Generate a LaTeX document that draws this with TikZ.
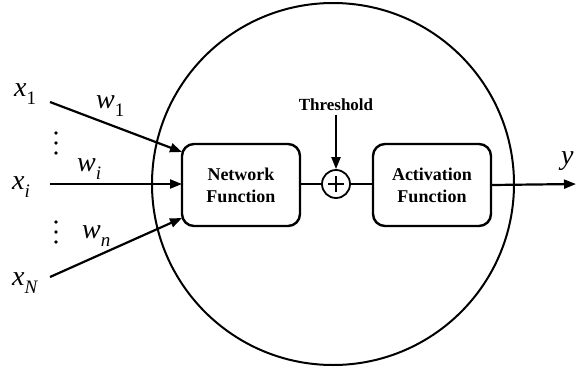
\documentclass[tikz,border=0pt]{standalone}
\usepackage{fontspec}
\setmainfont{Liberation Serif}
\usetikzlibrary{arrows.meta}
\newcommand\vsub[2]{\textit{#1}\raisebox{-8pt}{\fontsize{19}{19}\selectfont #2}}
\begin{document}
\begin{tikzpicture}[x=1pt,y=-1pt,
  lbl/.style={font=\fontsize{28}{30}\selectfont, inner sep=0pt, anchor=base west},
  fbox/.style={draw, line width=2.4pt, rounded corners=12pt, minimum width=118pt, minimum height=82pt, font=\fontsize{18}{22}\selectfont\bfseries, align=center},
  conn/.style={line width=2.2pt},
  arr/.style={conn, -{Triangle[length=12pt,width=9pt]}},
  dot/.style={fill=black}]
\useasboundingbox (0,0) rectangle (576,370);
\node[draw, circle, line width=2pt, minimum size=362pt, inner sep=0pt] (neuron) at (333,184) {};
\node[fbox] (net) at (241,185) {Network\\Function};
\node[fbox] (act) at (432,185) {Activation\\Function};
\node[draw, circle, line width=1.8pt, minimum size=28pt, inner sep=0pt] (sum) at (336,184) {};
\draw[line width=1.5pt] (sum.center) ++(-8,0) -- ++(16,0);
\draw[line width=1.5pt] (sum.center) ++(0,-8) -- ++(0,16);
\draw[conn] (net.east |- sum.west) -- (sum.west);
\draw[conn] (sum.east) -- (act.west |- sum.east);
\node[font=\fontsize{17}{20}\selectfont\bfseries] (thr) at (336,105) {Threshold};
\draw[arr] (thr.south) -- (sum.north);
% inputs
\coordinate (s1) at (50,102);
\coordinate (si) at (50,184);
\coordinate (sN) at (50,277);
\coordinate (e1) at (182,152);
\coordinate (ei) at (182,184);
\coordinate (eN) at (182,218);
\draw[arr] (s1) -- (e1);
\draw[arr] (si) -- (ei);
\draw[arr] (sN) -- (eN);
\node[lbl] (x1) at (14,96) {\vsub{x}{1}};
\node[lbl] (xi) at (12,189) {\vsub{x}{\textit{i}}};
\node[lbl] (xN) at (12,285) {\vsub{x}{\textit{N}}};
\node[lbl] (w1) at (96,108) {\vsub{w}{1}};
\node[lbl] (wi) at (77,171) {\vsub{w}{\textit{i}}};
\node[lbl] (wn) at (82,238) {\vsub{w}{\textit{n}}};
\foreach \yy in {133,143,153,222,232,242} \fill[dot] (56,\yy) circle (1.9);
% output
\coordinate (yout) at (576,184);
\draw[arr] (act.east) -- (yout);
\node[lbl] (ylab) at (561,164) {\textit{y}};
\end{tikzpicture}
\end{document}
